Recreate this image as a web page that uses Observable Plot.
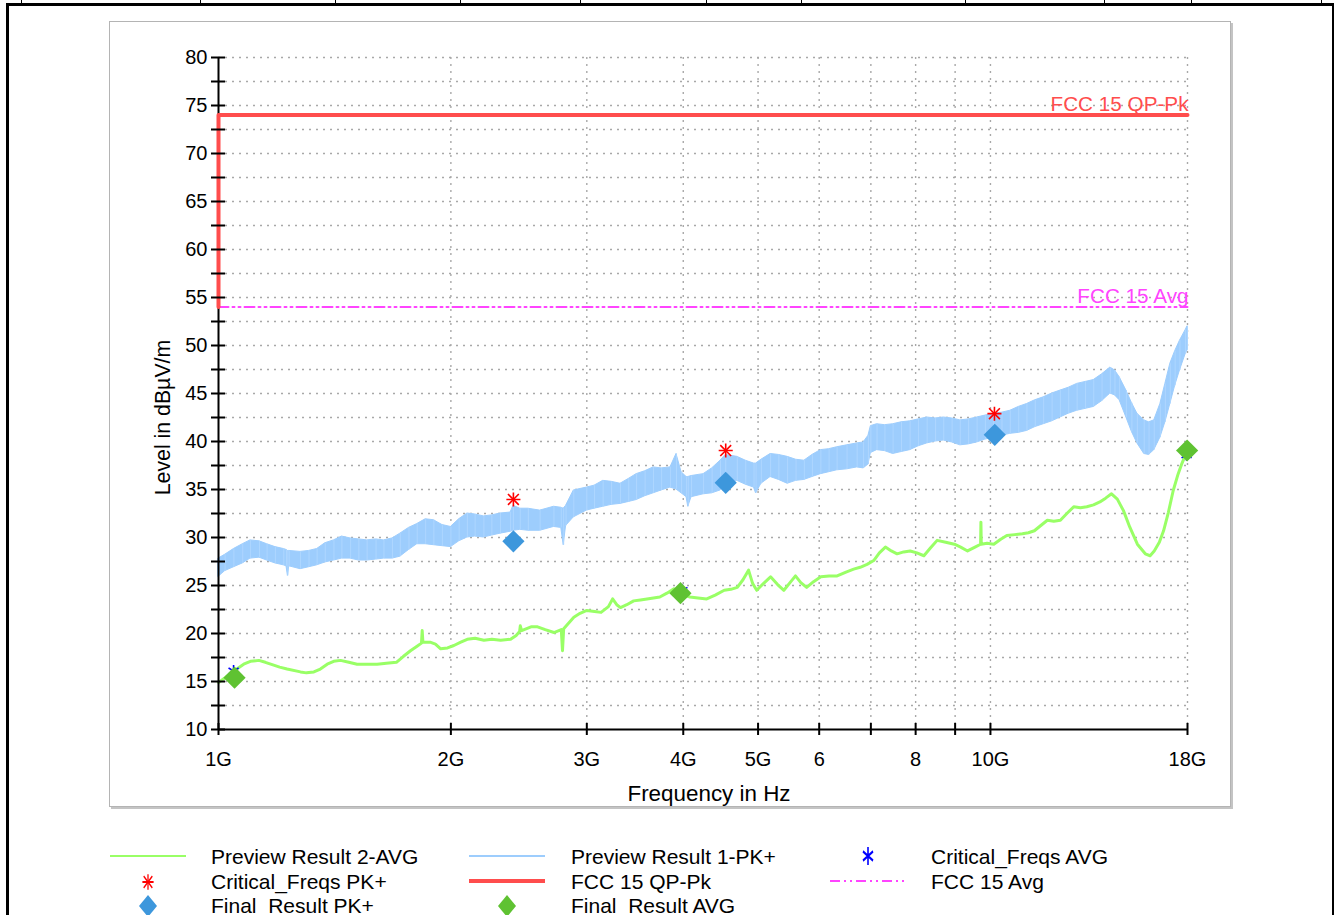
<!DOCTYPE html>
<html><head><meta charset="utf-8">
<script src="https://cdn.jsdelivr.net/npm/d3@7"></script>
<script src="https://cdn.jsdelivr.net/npm/@observablehq/plot@0.6"></script>
<style>
html,body{margin:0;padding:0;background:#fff;width:1336px;height:915px;overflow:hidden;font-family:"Liberation Sans",Arial,sans-serif;}
.abs{position:absolute;}
.frame{left:109px;top:21px;width:1120px;height:784px;border:1px solid #b4b4b4;box-shadow:2px 2px 0 #c4c4c4;background:#fff;}
#chart{left:110px;top:22px;width:1120px;height:784px;}
.legtxt{position:absolute;font-size:21px;line-height:20px;color:#000;white-space:nowrap;}
.bline{position:absolute;background:#000;}
</style></head><body>
<div id="page"></div>
<div class="abs frame"></div>
<div id="chart" class="abs"></div>
<svg id="legsym" class="abs" style="left:0;top:830px" width="1336" height="90"></svg>
<div id="legtext"></div>
<script>
// ---- Preview Result 1-PK+ (band envelope), GHz / dBµV/m
const pkFreq = [1.0,1.02,1.047,1.075,1.10,1.13,1.156,1.185,1.215,1.225,1.23,1.235,1.277,1.31,1.342,1.375,1.411,1.445,1.483,1.52,1.558,1.60,1.638,1.68,1.72,1.765,1.809,1.855,1.901,1.95,2.0,2.05,2.101,2.15,2.207,2.26,2.319,2.39,2.41,2.46,2.52,2.61,2.72,2.78,2.80,2.82,2.886,3.0,3.07,3.15,3.23,3.317,3.40,3.48,3.57,3.66,3.75,3.85,3.92,3.98,4.04,4.06,4.10,4.25,4.36,4.47,4.54,4.70,4.82,4.94,4.97,5.05,5.19,5.32,5.46,5.60,5.74,5.88,6.03,6.18,6.33,6.52,6.72,6.85,6.95,7.0,7.13,7.30,7.48,7.67,7.87,8.07,8.28,8.49,8.70,8.92,9.14,9.37,9.61,9.85,10.1,10.35,10.61,10.88,11.15,11.43,11.72,12.02,12.32,12.63,12.95,13.28,13.61,13.95,14.3,14.5,14.7,15.0,15.25,15.5,15.82,16.05,16.3,16.6,16.85,17.1,17.35,17.6,17.9,18.0];
const pkLo = [25.9,26.5,26.9,27.3,27.8,27.9,27.6,27.3,27.1,27.0,26.0,27.0,26.7,26.9,27.1,27.4,27.6,27.8,27.8,27.6,27.6,27.7,27.8,27.8,28.0,28.7,29.3,29.3,29.2,29.1,29.0,29.6,30.0,30.1,30.0,30.2,30.4,30.6,30.7,30.8,30.7,30.7,31.1,31.0,29.2,31.2,32.1,32.8,33.0,33.2,33.4,33.5,33.7,33.9,34.3,34.6,34.9,35.2,35.0,34.6,34.2,33.2,34.2,34.5,34.6,34.9,35.6,35.9,35.5,35.2,34.6,35.6,36.3,36.0,35.6,35.9,36.0,36.3,36.6,36.8,37.0,37.1,37.3,37.2,37.6,38.8,39.1,39.0,38.7,38.9,39.1,39.5,39.8,40.0,40.1,39.9,39.6,39.7,39.9,40.2,40.4,40.6,40.8,40.9,41.1,41.5,41.8,42.1,42.5,42.9,43.2,43.4,43.6,44.2,45.0,44.8,44.3,42.5,41.0,39.8,38.7,38.6,39.1,40.4,42.0,43.9,45.8,47.4,49.1,49.5];
const pkHi = [27.8,28.2,28.8,29.3,29.7,29.6,29.3,29.0,28.8,28.7,28.6,28.6,28.5,28.6,28.8,29.4,29.7,30.1,29.9,29.8,29.7,29.8,29.7,29.9,30.4,31.0,31.4,31.9,31.8,31.3,31.1,31.9,32.5,32.4,32.2,32.3,32.5,32.6,33.3,33.0,33.0,32.8,33.2,33.1,33.0,33.3,34.9,35.2,35.4,35.9,35.8,35.6,36.1,36.6,36.9,37.3,37.2,37.3,38.7,36.8,36.3,36.3,36.4,36.6,37.2,38.0,38.6,38.4,38.0,37.7,37.7,38.1,38.7,38.6,38.4,38.1,38.0,38.6,39.1,39.2,39.4,39.6,39.8,39.9,40.6,41.6,41.8,41.7,41.8,42.0,42.1,42.3,42.5,42.4,42.5,42.4,42.2,42.3,42.5,42.7,42.9,43.0,43.2,43.6,43.9,44.3,44.6,45.0,45.3,45.6,46.0,46.2,46.4,47.0,47.7,47.4,46.7,45.3,44.0,42.9,42.2,42.0,42.2,43.9,46.0,48.1,49.4,50.5,51.6,52.0];

// ---- Preview Result 2-AVG
const avgFreq = [1.0,1.02,1.047,1.078,1.10,1.128,1.15,1.179,1.20,1.227,1.277,1.30,1.329,1.355,1.383,1.41,1.439,1.475,1.512,1.56,1.605,1.65,1.70,1.735,1.773,1.81,1.832,1.836,1.84,1.88,1.91,1.94,1.98,2.018,2.06,2.10,2.15,2.207,2.26,2.32,2.39,2.43,2.455,2.46,2.47,2.54,2.59,2.65,2.72,2.78,2.79,2.80,2.886,2.94,3.0,3.07,3.13,3.20,3.24,3.28,3.317,3.38,3.45,3.52,3.59,3.66,3.73,3.81,3.89,3.97,4.02,4.08,4.18,4.29,4.40,4.52,4.61,4.70,4.78,4.86,4.92,4.98,5.08,5.19,5.30,5.40,5.50,5.59,5.68,5.78,5.90,6.03,6.18,6.33,6.50,6.65,6.78,6.92,7.06,7.18,7.31,7.44,7.57,7.72,7.87,8.03,8.20,8.36,8.53,8.75,8.98,9.15,9.34,9.55,9.71,9.72,9.73,9.90,10.1,10.3,10.5,10.75,11.0,11.2,11.4,11.6,11.85,12.08,12.32,12.56,12.82,13.08,13.33,13.6,13.86,14.1,14.35,14.6,14.87,15.15,15.5,15.87,16.1,16.3,16.55,16.76,17.0,17.25,17.5,17.7,18.0];
const avgLevel = [14.9,15.4,16.1,16.8,17.1,17.2,17.0,16.7,16.5,16.3,16.0,15.9,16.0,16.3,16.8,17.1,17.2,17.0,16.8,16.8,16.8,16.9,17.0,17.6,18.2,18.7,19.0,20.3,19.1,19.1,18.9,18.4,18.5,18.75,19.1,19.4,19.5,19.3,19.4,19.3,19.4,19.8,20.2,20.8,20.3,20.7,20.7,20.4,20.1,20.4,18.2,20.5,21.7,22.1,22.4,22.3,22.2,22.8,23.6,23.0,22.7,23.0,23.4,23.5,23.6,23.7,23.8,24.2,24.65,24.3,24.0,23.8,23.7,23.6,24.0,24.5,24.6,24.8,25.6,26.6,25.2,24.5,25.2,25.9,25.1,24.5,25.3,26.0,25.3,24.8,25.4,25.9,26.0,26.0,26.4,26.7,26.9,27.2,27.6,28.4,29.0,28.6,28.3,28.5,28.6,28.4,28.1,28.9,29.7,29.5,29.3,29.0,28.6,29.0,29.3,31.6,29.3,29.4,29.3,29.8,30.2,30.3,30.4,30.5,30.7,31.2,31.8,31.7,31.8,32.5,33.2,33.1,33.2,33.4,33.7,34.1,34.55,34.0,32.8,31.1,29.3,28.3,28.1,28.6,29.5,30.7,32.6,34.9,36.6,37.7,39.1];

// ---- markers
const critPkFreq = [2.41, 4.54, 10.12];
const critPkLevel = [33.96, 39.06, 42.9];
const critAvgFreq = [1.046, 3.99, 17.95];
const critAvgLevel = [16.1, 24.5, 38.6];
const finalPkFreq = [2.41, 4.54, 10.13];
const finalPkLevel = [29.6, 35.7, 40.7];
const finalAvgFreq = [1.049, 3.967, 17.98];
const finalAvgLevel = [15.4, 24.2, 39.06];

// ---- limits
const qpLimitFreq = [1, 1, 18];
const qpLimitLevel = [54, 74, 74];
const avgLimitFreq = [1, 18];
const avgLimitLevel = [54, 54];
const limitNames = ["FCC 15 QP-Pk", "FCC 15 Avg"];

// ---- ticks
const xTickValues = [1, 2, 3, 4, 5, 6, 7, 8, 9, 10, 18];
const xTickLabels = ["1G", "2G", "3G", "4G", "5G", "6", "", "8", "", "10G", "18G"];
const xGridValues = [2, 3, 4, 5, 6, 7, 8, 9, 10, 18];
const yTickValues = [10, 15, 20, 25, 30, 35, 40, 45, 50, 55, 60, 65, 70, 75, 80];
const yMinorValues = [10, 12.5, 15, 17.5, 20, 22.5, 25, 27.5, 30, 32.5, 35, 37.5, 40, 42.5, 45, 47.5, 50, 52.5, 55, 57.5, 60, 62.5, 65, 67.5, 70, 72.5, 75, 77.5, 80];
const yGridValues = [12.5, 15, 17.5, 20, 22.5, 25, 27.5, 30, 32.5, 35, 37.5, 40, 42.5, 45, 47.5, 50, 52.5, 55, 57.5, 60, 62.5, 65, 67.5, 70, 72.5, 75, 77.5, 80];
const xTitle = "Frequency in Hz";
const yTitle = "Level in dBµV/m";

// ---- legend
const legendNames = ["Preview Result 2-AVG", "Preview Result 1-PK+", "Critical_Freqs AVG",
                     "Critical_Freqs PK+", "FCC 15 QP-Pk", "FCC 15 Avg",
                     "Final_Result PK+", "Final_Result AVG"];

const C = {pk: "#9dcdfd", avg: "#99ff66", qp: "#ff4d4d", avgLim: "#ff44ff", star: "#ff0000",
           ast: "#0000ff", dPk: "#3d97dc", dAvg: "#5fc232", grid: "#a8a8a8"};

const zip = (a, b) => a.map((f, i) => ({f, v: b[i]}));
const pk = pkFreq.map((f, i) => ({f, lo: pkLo[i], hi: pkHi[i]}));
const avg = zip(avgFreq, avgLevel);
const critPk = zip(critPkFreq, critPkLevel);
const critAvg = zip(critAvgFreq, critAvgLevel);
const finalPk = zip(finalPkFreq, finalPkLevel);
const finalAvg = zip(finalAvgFreq, finalAvgLevel);
const qp = zip(qpLimitFreq, qpLimitLevel);
const avgLim = zip(avgLimitFreq, avgLimitLevel);
const limLabels = [{f: 18, v: qpLimitLevel[2], t: limitNames[0], c: C.qp}, {f: 18, v: avgLimitLevel[1], t: limitNames[1], c: C.avgLim}];

const chart = Plot.plot({
  width: 1120, height: 784,
  marginLeft: 108, marginRight: 43, marginTop: 35, marginBottom: 77,
  x: {type: "log", domain: [1, 18]},
  y: {domain: [10, 80]},
  style: {fontFamily: '"Liberation Sans", Arial, sans-serif', fontSize: "20px", background: "transparent", color: "#000", overflow: "visible"},
  marks: [
    Plot.ruleY(yGridValues, {stroke: C.grid, strokeWidth: 1.4, strokeDasharray: "2,5"}),
    Plot.ruleX(xGridValues, {stroke: C.grid, strokeWidth: 1.4, strokeDasharray: "2,5"}),
    Plot.areaY(pk, {x: "f", y1: "lo", y2: "hi", fill: C.pk, stroke: C.pk, strokeWidth: 1}),
    Plot.ruleX(pk, {x: "f", y1: "lo", y2: "hi", stroke: "#aed6ff", strokeWidth: 1}),
    Plot.line(avg, {x: "f", y: "v", stroke: C.avg, strokeWidth: 3}),
    Plot.ruleX([1], {stroke: "#000", strokeWidth: 2}),
    Plot.ruleY([10], {stroke: "#000", strokeWidth: 2}),
    Plot.line(avgLim, {x: "f", y: "v", stroke: C.avgLim, strokeWidth: 2, strokeDasharray: "10,4,2,4,2,4"}),
    Plot.line(qp, {x: "f", y: "v", stroke: C.qp, strokeWidth: 4}),
    Plot.axisY({ticks: yMinorValues, tickSize: 14, dx: 7, tickFormat: () => "", label: null, strokeWidth: 2}),
    Plot.axisY({ticks: yTickValues, tickSize: 0, tickPadding: 11, label: null, tickFormat: d => String(d)}),
    Plot.axisX({ticks: xTickValues, tickSize: 12, dy: -6, tickFormat: () => "", label: null, strokeWidth: 2}),
    Plot.axisX({ticks: xTickValues, tickSize: 0, tickPadding: 22, label: null, tickFormat: d => xTickLabels[xTickValues.indexOf(d)]}),
    Plot.text([yTitle], {frameAnchor: "left", textAnchor: "middle", lineAnchor: "middle", rotate: -90, dx: -55, dy: 24, fontSize: 21.3}),
    Plot.text([xTitle], {frameAnchor: "bottom", textAnchor: "middle", lineAnchor: "middle", dx: 6, dy: 64, fontSize: 22.4}),
    Plot.text(limLabels, {x: "f", y: "v", text: "t", fill: "c", textAnchor: "end", dx: 1, dy: -11, fontSize: 20.7}),
    Plot.dot(critPk, {x: "f", y: "v", symbol: "plus", r: 4.6, stroke: C.star, strokeWidth: 1.6}),
    Plot.dot(critPk, {x: "f", y: "v", symbol: "times", r: 5, stroke: C.star, strokeWidth: 1.6}),
    Plot.dot(critAvg, {x: "f", y: "v", symbol: "asterisk", r: 5.5, stroke: C.ast, strokeWidth: 1.6}),
    Plot.dot(finalPk, {x: "f", y: "v", symbol: "diamond2", r: 10, fill: C.dPk}),
    Plot.dot(finalAvg, {x: "f", y: "v", symbol: "diamond2", r: 10, fill: C.dAvg})
  ]
});
document.getElementById("chart").appendChild(chart);

// ---- page decoration (report table borders)
const page = document.getElementById("page");
function box(l, t, w, h) { const d = document.createElement("div"); d.className = "bline"; Object.assign(d.style, {left: l + "px", top: t + "px", width: w + "px", height: h + "px"}); page.appendChild(d); }
box(6, 3, 1328, 2.5); box(6, 3, 2.5, 912); box(1332, 3, 2, 912);
[21, 200, 335, 460, 580, 706, 801, 965, 1104, 1191, 1321].forEach(x => box(x, 0, 1, 4));

// ---- legend
const svg = d3.select("#legsym");
const rowY = [27, 52, 76];
const colSym = [148, 507, 868];
const colTxt = [211, 571, 931];
const kinds = ["lineAvg", "linePk", "ast", "star", "lineQp", "lineAvgLim", "dPk", "dAvg"];
const lt = document.getElementById("legtext");
legendNames.forEach((name, i) => {
  const r = Math.floor(i / 3), c = i % 3, y = rowY[r], x = colSym[c];
  const k = kinds[i];
  if (k.startsWith("line")) {
    const st = {lineAvg: [C.avg, 2, null], linePk: [C.pk, 2, null], lineQp: [C.qp, 4, null], lineAvgLim: [C.avgLim, 2, "10,4,2,4,2,4"]}[k];
    svg.append("line").attr("x1", x - 38).attr("x2", x + 38).attr("y1", y - 1).attr("y2", y - 1)
      .attr("stroke", st[0]).attr("stroke-width", st[1]).attr("stroke-dasharray", st[2]);
  } else if (k === "ast") {
    svg.append("path").attr("d", d3.symbol(d3.symbolAsterisk, 150)()).attr("transform", `translate(${x},${y - 1}) scale(0.8,1.25)`)
      .attr("stroke", C.ast).attr("stroke-width", 2).attr("fill", "none");
  } else if (k === "star") {
    svg.append("path").attr("d", d3.symbol(d3.symbolPlus, 66)()).attr("transform", `translate(${x},${y}) scale(0.8,1.1)`).attr("stroke", C.star).attr("stroke-width", 1.6).attr("fill", "none");
    svg.append("path").attr("d", d3.symbol(d3.symbolTimes, 78)()).attr("transform", `translate(${x},${y}) scale(0.8,1.1)`).attr("stroke", C.star).attr("stroke-width", 1.6).attr("fill", "none");
  } else {
    svg.append("path").attr("d", "M0,-11L9,0L0,11L-9,0Z").attr("transform", `translate(${x},${y})`)
      .attr("fill", k === "dPk" ? C.dPk : C.dAvg);
  }
  const d = document.createElement("div");
  d.className = "legtxt"; d.textContent = name;
  d.style.left = colTxt[c] + "px"; d.style.top = (830 + y - 10) + "px";
  lt.appendChild(d);
});
</script>
</body></html>
